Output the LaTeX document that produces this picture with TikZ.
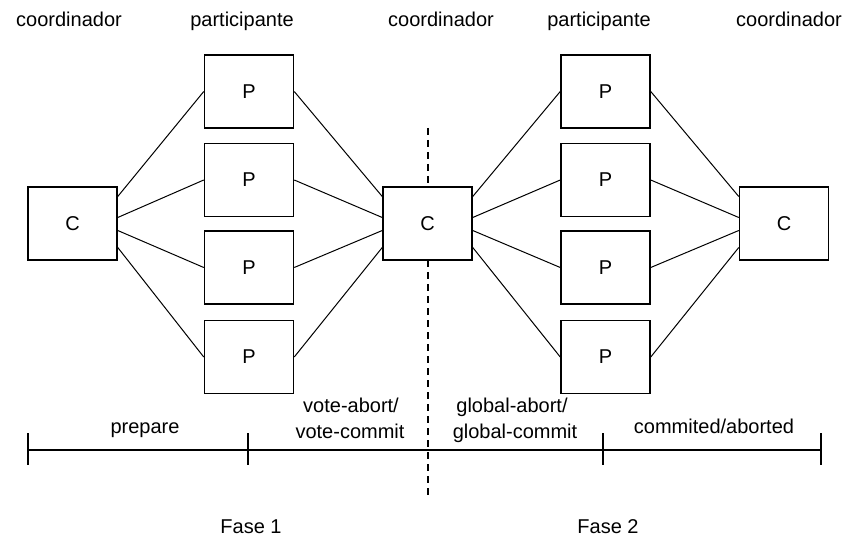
\documentclass[tikz,border=0pt]{standalone}
\usepackage{fontspec}
\setmainfont{Liberation Sans}
\begin{document}
\begin{tikzpicture}[x=1pt,y=-1pt,
  box/.style={draw, fill=white, line width=1.5pt, minimum width=89pt, minimum height=73pt, inner sep=0pt},
  link/.style={line width=1pt},
  axis/.style={line width=1.6pt},
  lbl/.style={inner sep=0pt, anchor=base, font=\fontsize{20}{23}\selectfont},
  every node/.style={font=\fontsize{20}{23}\selectfont}]
\useasboundingbox (0,0) rectangle (849,540);

% phase separator, drawn first so the middle box covers it
\coordinate (D0) at (428,128);
\coordinate (D1) at (428,495);
\draw[line width=1.3pt, dash pattern=on 7pt off 5pt] (D0) -- (D1);

% column headings
\node[lbl] (h1) at (69,27) {coordinador};
\node[lbl] (h2) at (242,27) {participante};
\node[lbl] (h3) at (441,27) {coordinador};
\node[lbl] (h4) at (599,27) {participante};
\node[lbl] (h5) at (789,27) {coordinador};

% coordinators
\node[box] (C1) at (72.5,223.5) {C};
\node[box] (C2) at (427.5,223.5) {C};
\node[box] (C3) at (784,223.5) {C};

% participants, first round
\node[box] (A1) at (249,91.5) {P};
\node[box] (A2) at (249,180) {P};
\node[box] (A3) at (249,267.5) {P};
\node[box] (A4) at (249,357) {P};
% participants, second round
\node[box] (B1) at (605.5,91.5) {P};
\node[box] (B2) at (605.5,180) {P};
\node[box] (B3) at (605.5,267.5) {P};
\node[box] (B4) at (605.5,357) {P};

% messages between coordinators and participants
\foreach \i/\s in {1/27pt,2/6pt,3/-7pt,4/-24pt}{
  \draw[link] ([yshift=\s]C1.east) -- (A\i.west);
  \draw[link] (A\i.east) -- ([yshift=\s]C2.west);
  \draw[link] ([yshift=\s]C2.east) -- (B\i.west);
  \draw[link] (B\i.east) -- ([yshift=\s]C3.west);
}

% timeline
\coordinate (T0) at (28,450);
\coordinate (T1) at (248,450);
\coordinate (T2) at (603,450);
\coordinate (T3) at (821,450);
\draw[axis] (T0) -- (T3);
\foreach \t in {T0,T1,T2,T3}
  \draw[axis] ([yshift=17pt]\t) -- ([yshift=-15pt]\t);

% timeline labels
\node[lbl] (l1) at (145,433) {prepare};
\node[lbl] (l2) at (351,412) {vote-abort/};
\node[lbl] (l3) at (350,438) {vote-commit};
\node[lbl] (l4) at (512,412) {global-abort/};
\node[lbl] (l5) at (515,438) {global-commit};
\node[lbl] (l6) at (714,433) {commited/aborted};
\node[lbl] (f1) at (251,533) {Fase 1};
\node[lbl] (f2) at (608,533) {Fase 2};
\end{tikzpicture}
\end{document}
